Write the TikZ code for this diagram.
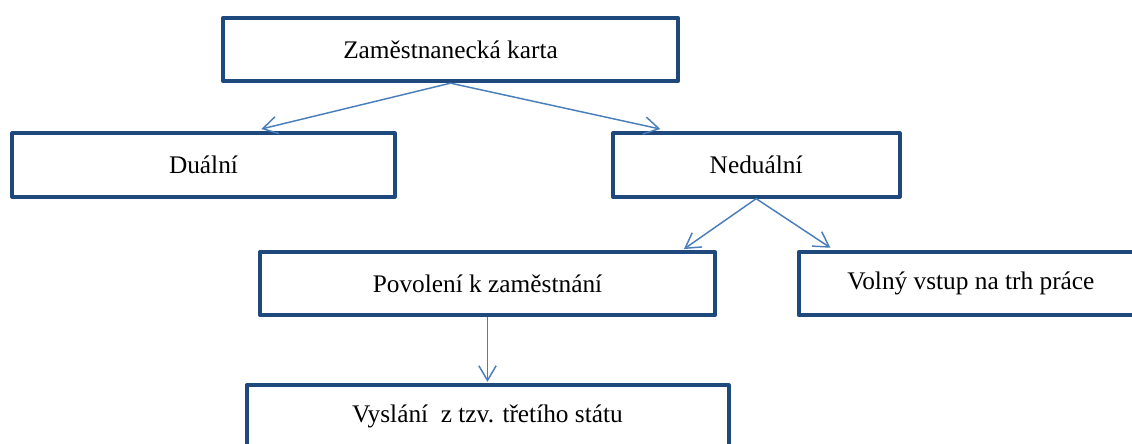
\documentclass[tikz,border=0pt]{standalone}
\usepackage{fontspec}
\setmainfont{Liberation Serif}
\usetikzlibrary{arrows.meta,positioning}
\definecolor{boxblue}{HTML}{1F497D}
\definecolor{lineblue}{HTML}{4A7EBB}

\begin{document}
\begin{tikzpicture}[x=0.75pt,y=-0.75pt,>={Straight Barb[length=11pt,width=13pt]},shorten >=1pt,
  box/.style={draw=boxblue,line width=3pt,line join=round,fill=white,minimum height=47.5pt,font=\fontsize{19}{23}\selectfont}]
  \useasboundingbox (0,0) rectangle (1132,443);
  \node[box,minimum width=341pt] (karta) at (450.5,49.5) {Zaměstnanecká karta};
  \node[box,minimum width=287pt] (dual) at (203.5,165) {Duální};
  \node[box,minimum width=215pt,right=160.5pt of dual] (nedual) {Neduální};
  \node[box,minimum width=341pt] (povol) at (487.5,283.5) {Povolení k zaměstnání};
  \node[box,minimum width=258pt,right=60pt of povol] (volny) {Volný vstup na trh práce};
  \node[box,minimum width=361.5pt,below=49.5pt of povol] (vyslani) {Vyslání~ z tzv. třetího státu};

  \path[->,lineblue,line width=1.1pt]
    (karta.south) edge ([xshift=42.4pt,yshift=1.5pt]dual.north)
    (karta.south) edge ([xshift=-70.9pt,yshift=1.5pt]nedual.north)
    (nedual.south) edge ([xshift=-25.5pt]povol.north east)
    (nedual.south) edge ([xshift=26pt,yshift=1pt]volny.north west)
    (povol.south) edge (vyslani.north);
\end{tikzpicture}
\end{document}
